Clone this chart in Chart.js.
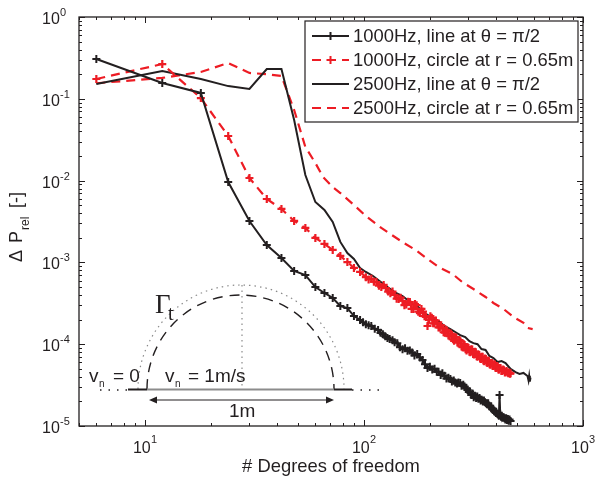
<!DOCTYPE html>
<html>
<head>
<meta charset="utf-8">
<script src="https://cdn.jsdelivr.net/npm/chart.js@4"></script>
<style>
body { margin: 0; background: #fff; }
canvas { display: block; }
</style>
</head>
<body>
<canvas id="myChart" width="596" height="477"></canvas>
<script>
var dofLine1000 = [6,12,18,24,30,36,42,48,54,60,66,72,78,84,90,96,99,102,105,108,112,116,119,122,125,128,131,135,138,142,146,150,154,158,162,166,170,175,180,185,190,195,200,205,210,215,219,224,228,233,238,243,248,252,257,261,266,270,275,279,284,288,293,297,301,305,309,313,317,321,325,329,333,337,341,345,349,353,357,361,365,369,373,377,381,385,389,393,397,401,405,409,413,416,419,422,426,430,434,438,442,446,450,454,458,462,467];
var relLine1000 = [0.307,0.156,0.118,0.0096,0.0032,0.00163,0.00113,0.000785,0.000701,0.0005,0.000423,0.000367,0.000293,0.000277,0.000221,0.000198,0.000185,0.000175,0.00017,0.000167,0.000155,0.000149,0.000138,0.000132,0.000125,0.000119,0.000116,0.000112,0.000106,0.000103,0.000092,0.000087,0.000089,0.000083,0.000084,0.000079,0.000073,0.000076,0.000069,0.000064,0.000057,0.000051,0.000053,0.000049,0.00005,0.000046,0.000046,0.000042,0.000044,0.000041,0.000038,0.000039,0.0000376,0.000035,0.000036,0.000034,0.000033,0.000034,0.0000336,0.000031,0.000032,0.0000305,0.000029,0.0000275,0.000026,0.0000265,0.000024,0.000025,0.0000225,0.0000235,0.000022,0.000023,0.0000215,0.000022,0.0000205,0.000021,0.00002,0.0000205,0.0000195,0.000019,0.0000185,0.000019,0.0000178,0.0000172,0.0000168,0.000016,0.0000162,0.0000152,0.000015,0.0000144,0.0000142,0.0000138,0.0000133,0.0000239,0.0000138,0.000013,0.0000133,0.0000126,0.0000128,0.0000124,0.000012,0.0000124,0.0000118,0.0000122,0.0000116,0.000012,0.0000115];

var dofCircle1000 = [6,12,18,24,30,36,42,48,54,60,66,72,78,84,90,96,102,105,108,111,114,117,120,123,126,129,132,135,138,141,144,147,150,153,156,159,162,165,168,171,174,177,180,183,186,189,192,195,198,201,204,207,210,213,216,219,222,225,228,231,234,237,240,243,246,249,252,255,258,261,264,267,270,273,276,279,282,285,288,291,294,297,300,303,306,309,312,315,318,321,324,327,330,333,336,339,342,345,348,351,354,357,360,363,366,369,372,375,378,381,384,387,390,393,396,399,402,405,408,411,414,417,420,424,428,432,436,440,444,448,452,456,460,464,467];
var relCircle1000 = [0.1746,0.266,0.102,0.0351,0.01076,0.00596,0.0045,0.00321,0.00264,0.00199,0.00168,0.00142,0.0012,0.00101,0.000855,0.000764,0.00066,0.00062,0.00063,0.00058,0.000575,0.00052,0.0005,0.00053,0.000486,0.00044,0.00042,0.00044,0.0004,0.00036,0.000357,0.00037,0.00034,0.0003,0.000305,0.00033,0.000328,0.00027,0.00027,0.00031,0.0003,0.00025,0.00024,0.00027,0.00025,0.00022,0.000215,0.000167,0.0002,0.00022,0.00021,0.00018,0.00018,0.000195,0.000182,0.00016,0.00016,0.00017,0.000158,0.00014,0.000138,0.00015,0.000145,0.000128,0.000125,0.000135,0.00013,0.000115,0.00011,0.000122,0.00012,0.000105,0.000105,0.000112,0.000108,0.000094,0.000092,0.0001,0.000098,0.000087,0.000084,0.000092,0.00009,0.000081,0.00008,0.000087,0.000086,0.000076,0.000075,0.000081,0.00008,0.000071,0.00007,0.000075,0.000074,0.000067,0.000066,0.00007,0.00007,0.000063,0.000062,0.000067,0.000066,0.00006,0.000059,0.000063,0.000062,0.000057,0.000056,0.000059,0.000059,0.000054,0.000054,0.000057,0.000056,0.000051,0.000051,0.000054,0.000053,0.000049,0.000049,0.000051,0.000051,0.000047,0.000047,0.000049,0.000048,0.000045,0.000046,0.000047,0.000045,0.000044,0.000045,0.0000435,0.000044];

var dofLine2500 = [6,12,18,24,30,36,42,48,54,60,66,72,78,84,90,96,102,110,121,130,140,150,158,166,175,185,195,205,219,233,248,261,275,290,303,316,330,344,359,374,390,407,425,443,467,492,513,535,558,564,568,572,576];
var relLine2500 = [0.152,0.219,0.175,0.143,0.132,0.231,0.231,0.055,0.0117,0.00547,0.00437,0.00312,0.00178,0.0013,0.0011,0.000855,0.000764,0.000682,0.00056,0.000486,0.000423,0.000388,0.000347,0.000319,0.000293,0.000255,0.000228,0.000209,0.000192,0.000167,0.000153,0.000141,0.000129,0.000122,0.000109,0.000103,0.0001,0.0000873,0.000085,0.0000718,0.0000677,0.0000605,0.0000623,0.0000588,0.0000498,0.0000457,0.0000432,0.0000445,0.0000408,0.000036,0.000041,0.000035,0.000039];

var dofCircle2500 = [6,12,18,24,30,36,42,48,54,60,65,72,78,90,102,120,132,152,172,195,219,254,281,316,359,390,434,482,535,558,589];
var relCircle2500 = [0.155,0.18,0.213,0.274,0.207,0.2,0.19,0.0729,0.0258,0.0164,0.0111,0.00836,0.00705,0.00503,0.00369,0.00264,0.00222,0.00173,0.00142,0.0011,0.000879,0.000721,0.000575,0.000473,0.000378,0.000319,0.000269,0.000215,0.000182,0.000158,0.000153];

var legendLabels = ["1000Hz, line at \u03b8 = \u03c0/2", "1000Hz, circle at r = 0.65m", "2500Hz, line at \u03b8 = \u03c0/2", "2500Hz, circle at r = 0.65m"];
var xTickExps = [1, 2, 3];
var yTickExps = [0, -1, -2, -3, -4, -5];
var minorSteps = [2, 3, 4, 5, 6, 7, 8, 9];

var BLACK = "#231f20";
var RED = "#ed1c24";
var SANS = "'Liberation Sans', Arial, sans-serif";

function pairs(xs, ys){
    var out = [];
    for(let i=0; i<xs.length; i++){
        out.push({x: xs[i], y: ys[i]});
    }
    return out;
}

function drawLegend(ctx){
    var styles = [
        {color: BLACK, dash: [], width: 2, mark: true},
        {color: RED, dash: [9, 6], width: 2.2, mark: true},
        {color: BLACK, dash: [], width: 2, mark: false},
        {color: RED, dash: [9, 6], width: 2.2, mark: false}
    ];
    ctx.fillStyle = "#fff";
    ctx.fillRect(305, 21, 273, 101);
    ctx.strokeStyle = BLACK;
    ctx.lineWidth = 1.2;
    ctx.strokeRect(305, 21, 273, 101);
    ctx.textAlign = "left";
    ctx.textBaseline = "alphabetic";
    ctx.font = "18.4px " + SANS;
    for(let i=0; i<4; i++){
        var y = 36 + i*24;
        ctx.strokeStyle = styles[i].color;
        ctx.lineWidth = styles[i].width;
        ctx.setLineDash(styles[i].dash);
        ctx.beginPath();
        ctx.moveTo(312, y);
        ctx.lineTo(349, y);
        ctx.stroke();
        ctx.setLineDash([]);
        if(styles[i].mark){
            ctx.lineWidth = 2;
            ctx.beginPath();
            ctx.moveTo(330.5, y-4);
            ctx.lineTo(330.5, y+4);
            ctx.moveTo(326.5, y);
            ctx.lineTo(334.5, y);
            ctx.stroke();
        }
        ctx.fillStyle = BLACK;
        ctx.fillText(legendLabels[i], 353, y+6);
    }
}

function drawSchematic(ctx){
    ctx.lineCap = "butt";
    // dotted outer half circle and centre line
    ctx.strokeStyle = "#8a8a8a";
    ctx.lineWidth = 1.2;
    ctx.setLineDash([1.5, 4]);
    ctx.beginPath();
    ctx.ellipse(241, 389, 103, 104, 0, Math.PI, 2*Math.PI);
    ctx.stroke();
    ctx.beginPath();
    ctx.moveTo(242, 285);
    ctx.lineTo(242, 389);
    ctx.stroke();
    // dashed inner half circle
    ctx.strokeStyle = BLACK;
    ctx.lineWidth = 1.4;
    ctx.setLineDash([10, 7]);
    ctx.beginPath();
    ctx.ellipse(240.5, 389, 93.5, 94, 0, Math.PI, 2*Math.PI);
    ctx.stroke();
    // ground line
    ctx.setLineDash([1.5, 7]);
    ctx.lineWidth = 1.4;
    ctx.beginPath();
    ctx.moveTo(100, 390);
    ctx.lineTo(128, 390);
    ctx.moveTo(352, 390);
    ctx.lineTo(384, 390);
    ctx.stroke();
    ctx.setLineDash([]);
    ctx.lineWidth = 1.8;
    ctx.beginPath();
    ctx.moveTo(128, 389.5);
    ctx.lineTo(147, 389.5);
    ctx.moveTo(334, 389.5);
    ctx.lineTo(352, 389.5);
    ctx.stroke();
    ctx.strokeStyle = "#8c8c8c";
    ctx.lineWidth = 2;
    ctx.beginPath();
    ctx.moveTo(147, 389.5);
    ctx.lineTo(334, 389.5);
    ctx.stroke();
    // 1m arrow
    ctx.strokeStyle = BLACK;
    ctx.fillStyle = BLACK;
    ctx.lineWidth = 1.2;
    ctx.beginPath();
    ctx.moveTo(152, 400);
    ctx.lineTo(331, 400);
    ctx.stroke();
    ctx.beginPath();
    ctx.moveTo(149, 400); ctx.lineTo(157, 396.5); ctx.lineTo(157, 403.5); ctx.closePath();
    ctx.moveTo(334, 400); ctx.lineTo(326, 396.5); ctx.lineTo(326, 403.5); ctx.closePath();
    ctx.fill();
    // labels
    ctx.textAlign = "left";
    ctx.textBaseline = "alphabetic";
    ctx.font = "19px " + SANS;
    ctx.fillText("1m", 229, 417);
    ctx.fillText("v", 89, 382);
    ctx.fillText("= 0", 113, 382);
    ctx.fillText("v", 165, 382);
    ctx.fillText("= 1m/s", 188, 382);
    ctx.font = "10px " + SANS;
    ctx.fillText("n", 99, 387);
    ctx.fillText("n", 175, 387);
    ctx.font = "27px 'Liberation Serif', 'Times New Roman', serif";
    ctx.fillText("\u0393", 155, 313);
    ctx.font = "20px 'Liberation Serif', 'Times New Roman', serif";
    ctx.fillText("t", 168, 320);
}

var frame = {
    id: "frame",
    afterDatasetsDraw: function(chart){
        var ctx = chart.ctx;
        var a = chart.chartArea;
        var sx = chart.scales.x;
        var sy = chart.scales.y;
        ctx.save();
        ctx.strokeStyle = BLACK;
        ctx.lineWidth = 1;
        ctx.beginPath();
        xTickExps.concat([0]).forEach(function(e){
            minorSteps.concat([1]).forEach(function(m){
                var v = m*Math.pow(10, e);
                if(v<5 || v>1000){ return; }
                var px = Math.round(sx.getPixelForValue(v)) + 0.5;
                var len = m==1 ? 6 : 3;
                ctx.moveTo(px, a.bottom); ctx.lineTo(px, a.bottom-len);
                ctx.moveTo(px, a.top); ctx.lineTo(px, a.top+len);
            });
        });
        yTickExps.forEach(function(e){
            minorSteps.concat([1]).forEach(function(m){
                var v = m*Math.pow(10, e);
                if(v>1){ return; }
                var py = Math.round(sy.getPixelForValue(v)) + 0.5;
                var len = m==1 ? 6 : 3;
                ctx.moveTo(a.left, py); ctx.lineTo(a.left+len, py);
                ctx.moveTo(a.right, py); ctx.lineTo(a.right-len, py);
            });
        });
        ctx.stroke();
        ctx.lineWidth = 1.3;
        ctx.strokeRect(a.left, a.top, a.right-a.left, a.bottom-a.top);

        ctx.fillStyle = BLACK;
        ctx.textBaseline = "alphabetic";
        ctx.textAlign = "left";
        xTickExps.forEach(function(e){
            var px = sx.getPixelForValue(Math.pow(10, e));
            ctx.font = "16px " + SANS;
            ctx.fillText("10", px-12, 453);
            ctx.font = "11px " + SANS;
            ctx.fillText(String(e), px+6, 443);
        });
        yTickExps.forEach(function(e){
            var py = sy.getPixelForValue(Math.pow(10, e));
            ctx.font = "16px " + SANS;
            ctx.fillText("10", 42, py+7);
            ctx.font = "11px " + SANS;
            ctx.fillText(String(e), 60, py-1);
        });

        ctx.font = "18.4px " + SANS;
        ctx.textAlign = "center";
        ctx.fillText("# Degrees of freedom", 331, 472);

        ctx.save();
        ctx.translate(22, 262);
        ctx.rotate(-Math.PI/2);
        ctx.textAlign = "left";
        ctx.font = "18px " + SANS;
        ctx.fillText("\u0394", 0, 0);
        ctx.fillText("P", 19, 0);
        ctx.font = "12px " + SANS;
        ctx.fillText("rel", 32, 7);
        ctx.font = "18px " + SANS;
        ctx.fillText("[-]", 54, 0);
        ctx.restore();

        drawSchematic(ctx);
        drawLegend(ctx);
        ctx.restore();
    }
};

new Chart("myChart", {
    type: "line",
    data: {
        datasets: [{
            label: legendLabels[0],
            data: pairs(dofLine1000, relLine1000),
            borderColor: BLACK,
            borderWidth: 2,
            pointStyle: "cross",
            pointRadius: 4,
            pointBorderColor: BLACK,
            pointBorderWidth: 2
        }, {
            label: legendLabels[1],
            data: pairs(dofCircle1000, relCircle1000),
            borderColor: RED,
            borderWidth: 2.2,
            borderDash: [9, 6],
            pointStyle: "cross",
            pointRadius: 4,
            pointBorderColor: RED,
            pointBorderWidth: 2.2
        }, {
            label: legendLabels[2],
            data: pairs(dofLine2500, relLine2500),
            borderColor: BLACK,
            borderWidth: 2,
            pointRadius: 0
        }, {
            label: legendLabels[3],
            data: pairs(dofCircle2500, relCircle2500),
            borderColor: RED,
            borderWidth: 2.2,
            borderDash: [9, 6],
            pointRadius: 0
        }]
    },
    options: {
        responsive: false,
        animation: false,
        layout: {padding: {left: 79, right: 13, top: 17, bottom: 51}},
        plugins: {legend: {display: false}, tooltip: {enabled: false}},
        scales: {
            x: {
                type: "logarithmic",
                min: 5,
                max: 1000,
                grid: {display: false, drawTicks: false},
                border: {display: false},
                ticks: {display: false}
            },
            y: {
                type: "logarithmic",
                min: 0.00001,
                max: 1,
                grid: {display: false, drawTicks: false},
                border: {display: false},
                ticks: {display: false}
            }
        }
    },
    plugins: [frame]
});
</script>
</body>
</html>
